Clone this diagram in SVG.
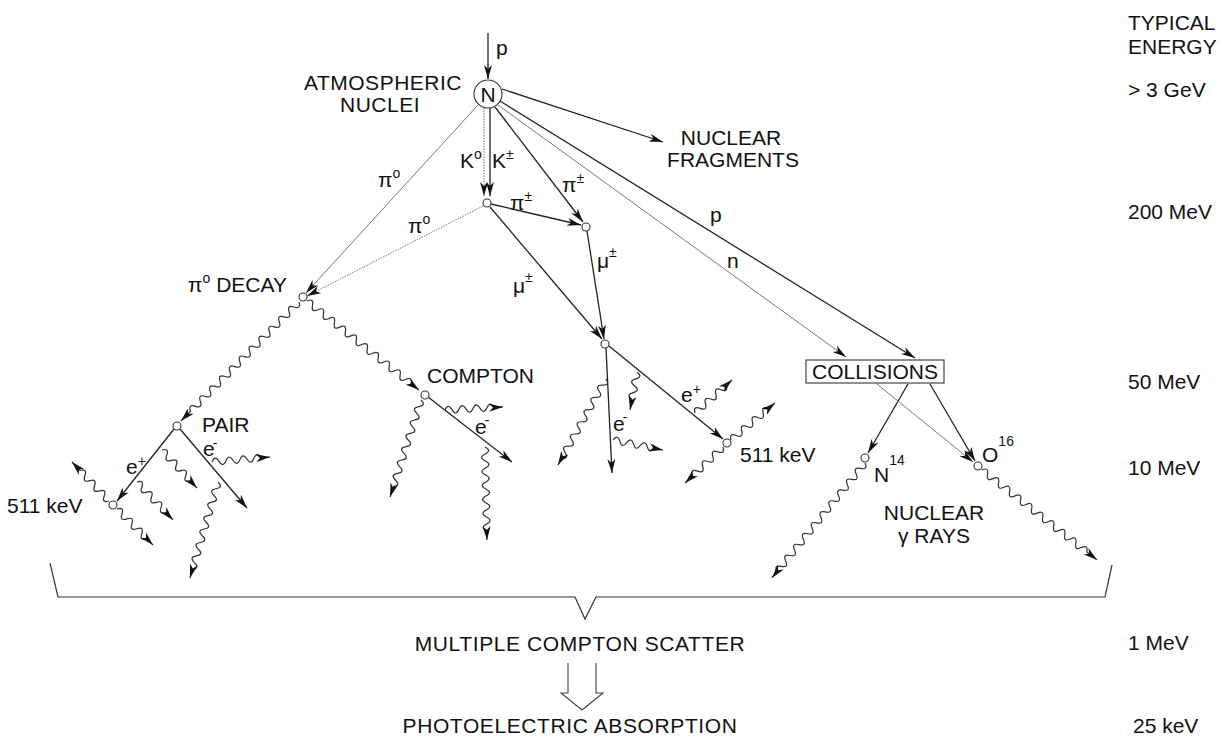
<svg xmlns="http://www.w3.org/2000/svg" width="1223" height="742" viewBox="0 0 1223 742">
<style>
text{font-family:"Liberation Sans",Arial,Helvetica,sans-serif;font-size:21px;fill:#111}
.ln{stroke:#222;stroke-width:1.3;fill:none;marker-end:url(#ah)}
.thin{stroke:#777;stroke-width:1;fill:none;marker-end:url(#ah)}
.dot{stroke-dasharray:1.5 1.2}
.wv{stroke:#333;stroke-width:1.2;fill:none;marker-end:url(#ah)}
.node{fill:#fff;stroke:#333;stroke-width:1.1}
.sup{font-size:14px}
.mid{text-anchor:middle}
</style>
<defs>
<marker id="ah" viewBox="0 0 14 8" refX="14" refY="4" markerWidth="14" markerHeight="8" markerUnits="userSpaceOnUse" orient="auto"><path d="M0,0 L14,4 L0,8 L4,4 z" fill="#111"/></marker>
</defs>
<rect width="1223" height="742" fill="#fff"/>

<g id="connectors">
<line class="ln" x1="488" y1="33" x2="488" y2="79"/>
<line class="thin" x1="478" y1="105" x2="306" y2="293"/>
<line class="thin dot" x1="484" y1="108" x2="484" y2="196"/>
<line class="ln" x1="490" y1="108" x2="490" y2="196"/>
<line class="ln" x1="495" y1="107" x2="583" y2="222"/>
<line class="ln" x1="502" y1="89" x2="663" y2="142"/>
<line class="ln" x1="500" y1="101" x2="915" y2="358"/>
<line class="thin" x1="498" y1="105" x2="846" y2="357"/>
<line class="ln" x1="491" y1="204" x2="581" y2="225"/>
<line class="thin dot" x1="483" y1="206" x2="307" y2="296"/>
<line class="ln" x1="490" y1="207" x2="602" y2="339"/>
<line class="ln" x1="587" y1="231" x2="604" y2="339"/>
<line class="ln" x1="174" y1="429" x2="117" y2="501"/>
<line class="ln" x1="180" y1="429" x2="247" y2="508"/>
<line class="ln" x1="428" y1="397" x2="512" y2="462"/>
<line class="ln" x1="606" y1="348" x2="612" y2="473"/>
<line class="ln" x1="609" y1="346" x2="723" y2="439"/>
<line class="ln" x1="908" y1="384" x2="868" y2="453"/>
<line class="ln" x1="930" y1="384" x2="975" y2="461"/>
<line class="thin" x1="877" y1="384" x2="973" y2="462"/>

<path class="wv" transform="translate(299,302) rotate(134.8)" d="M0,0 q3.5,-7 7,0 t7,0 7,0 7,0 7,0 7,0 7,0 7,0 7,0 7,0 7,0 7,0 7,0 7,0 7,0 7,0 7,0 7,0 7,0 7,0 7,0 7,0 L167.6,0"/>
<path class="wv" transform="translate(307,301) rotate(38.5)" d="M0,0 q3.5,-7 7,0 t7,0 7,0 7,0 7,0 7,0 7,0 7,0 7,0 7,0 7,0 7,0 7,0 7,0 7,0 7,0 7,0 7,0 7,0 L143.1,0"/>
<path class="wv" transform="translate(212,462) rotate(-4.9)" d="M0,0 q3.5,-7 7,0 t7,0 7,0 7,0 7,0 7,0 7,0 L58.2,0"/>
<path class="wv" transform="translate(218,482) rotate(106.3)" d="M0,0 q3.5,-7 7,0 t7,0 7,0 7,0 7,0 7,0 7,0 7,0 7,0 7,0 7,0 7,0 7,0 L100,0"/>
<path class="wv" transform="translate(162,450) rotate(47.4)" d="M0,0 q3.5,-7 7,0 t7,0 7,0 7,0 7,0 7,0 L51.7,0"/>
<path class="wv" transform="translate(137,482) rotate(46.5)" d="M0,0 q3.5,-7 7,0 t7,0 7,0 7,0 7,0 7,0 L52.3,0"/>
<path class="wv" transform="translate(109,501) rotate(-133.5)" d="M0,0 q3.5,-7 7,0 t7,0 7,0 7,0 7,0 7,0 L53.8,0"/>
<path class="wv" transform="translate(117,509) rotate(45)" d="M0,0 q3.5,-7 7,0 t7,0 7,0 7,0 7,0 7,0 L50.9,0"/>
<path class="wv" transform="translate(445,410) rotate(-3)" d="M0,0 q3.5,-7 7,0 t7,0 7,0 7,0 7,0 7,0 7,0 L58.1,0"/>
<path class="wv" transform="translate(485,447) rotate(88.8)" d="M0,0 q3.5,-7 7,0 t7,0 7,0 7,0 7,0 7,0 7,0 7,0 7,0 7,0 7,0 7,0 L93,0"/>
<path class="wv" transform="translate(421,400) rotate(107.7)" d="M0,0 q3.5,-7 7,0 t7,0 7,0 7,0 7,0 7,0 7,0 7,0 7,0 7,0 7,0 7,0 7,0 L101.8,0"/>
<path class="wv" transform="translate(606,379) rotate(119.2)" d="M0,0 q3.5,-7 7,0 t7,0 7,0 7,0 7,0 7,0 7,0 7,0 7,0 7,0 7,0 7,0 7,0 L98.5,0"/>
<path class="wv" transform="translate(613,440) rotate(11.3)" d="M0,0 q3.5,-7 7,0 t7,0 7,0 7,0 7,0 7,0 L51,0"/>
<path class="wv" transform="translate(637,372) rotate(100.4)" d="M0,0 q3.5,-7 7,0 t7,0 7,0 7,0 L38.6,0"/>
<path class="wv" transform="translate(695,413) rotate(-41.7)" d="M0,0 q3.5,-7 7,0 t7,0 7,0 7,0 7,0 7,0 L49.6,0"/>
<path class="wv" transform="translate(731,440) rotate(-40.1)" d="M0,0 q3.5,-7 7,0 t7,0 7,0 7,0 7,0 7,0 7,0 L57.5,0"/>
<path class="wv" transform="translate(723,447) rotate(136.5)" d="M0,0 q3.5,-7 7,0 t7,0 7,0 7,0 7,0 7,0 L52.3,0"/>
<path class="wv" transform="translate(865,463) rotate(129)" d="M0,0 q3.5,-7 7,0 t7,0 7,0 7,0 7,0 7,0 7,0 7,0 7,0 7,0 7,0 7,0 7,0 7,0 7,0 7,0 7,0 7,0 7,0 7,0 L147.9,0"/>
<path class="wv" transform="translate(982,470) rotate(38)" d="M0,0 q3.5,-7 7,0 t7,0 7,0 7,0 7,0 7,0 7,0 7,0 7,0 7,0 7,0 7,0 7,0 7,0 7,0 7,0 7,0 7,0 7,0 L146,0"/>

<polyline points="50,563 58,597 575,597 585,619 596,597 1105,597 1112,565" fill="none" stroke="#333" stroke-width="1.2"/>
<polyline points="568,663 568,693 561,693 582,710 603,693 596,693 596,663" fill="none" stroke="#444" stroke-width="1.1"/>
</g>

<g id="node-N">
<circle class="node" cx="488" cy="94" r="14"/>
<text x="488" y="101.5" class="mid">N</text>
<text x="383" y="90" class="mid" letter-spacing="0.5">ATMOSPHERIC</text>
<text x="380" y="112" class="mid" letter-spacing="0.5">NUCLEI</text>
</g>
<g id="node-K"><circle class="node" cx="487" cy="203" r="4"/></g>
<g id="node-pi"><circle class="node" cx="586" cy="227" r="4"/></g>
<g id="node-pi0decay">
<circle class="node" cx="303" cy="297" r="4"/>
<text x="188" y="292">π<tspan class="sup" dy="-9">o</tspan><tspan dy="9"> DECAY</tspan></text>
</g>
<g id="node-muon"><circle class="node" cx="605" cy="344" r="4"/></g>
<g id="node-pair">
<circle class="node" cx="177" cy="426" r="4"/>
<text x="202" y="432">PAIR</text>
</g>
<g id="node-511a">
<circle class="node" cx="113" cy="505" r="4"/>
<text x="7" y="513">511 keV</text>
</g>
<g id="node-compton">
<circle class="node" cx="425" cy="395" r="4"/>
<text x="427" y="383">COMPTON</text>
</g>
<g id="node-511b">
<circle class="node" cx="727" cy="443" r="4"/>
<text x="740" y="462">511 keV</text>
</g>
<g id="node-fragments">
<text x="731" y="145" class="mid">NUCLEAR</text>
<text x="733" y="167" class="mid">FRAGMENTS</text>
</g>
<g id="node-collisions">
<rect x="806" y="360" width="138" height="23" fill="#fff" stroke="#333" stroke-width="1.1"/>
<text x="875" y="379" class="mid">COLLISIONS</text>
</g>
<g id="node-N14">
<circle class="node" cx="865" cy="458" r="4"/>
<text x="874" y="482">N<tspan class="sup" dy="-17">14</tspan></text>
</g>
<g id="node-O16">
<circle class="node" cx="978" cy="466" r="4"/>
<text x="982" y="462">O<tspan class="sup" dy="-16">16</tspan></text>
</g>
<g id="node-nuclear-gamma">
<text x="934" y="520" class="mid">NUCLEAR</text>
<text x="934" y="543" class="mid">γ RAYS</text>
</g>
<g id="node-multiple">
<text x="580" y="651" class="mid" letter-spacing="0.6">MULTIPLE COMPTON SCATTER</text>
</g>
<g id="node-photo">
<text x="570" y="733" class="mid" letter-spacing="0.6">PHOTOELECTRIC ABSORPTION</text>
</g>

<g id="labels">
<text x="496" y="55">p</text>
<text x="378" y="187">π<tspan class="sup" dy="-9">o</tspan></text>
<text x="460" y="168">K<tspan class="sup" dy="-9">o</tspan></text>
<text x="492" y="168">K<tspan class="sup" dy="-9">±</tspan></text>
<text x="562" y="192">π<tspan class="sup" dy="-9">±</tspan></text>
<text x="510" y="210">π<tspan class="sup" dy="-9">±</tspan></text>
<text x="408" y="233">π<tspan class="sup" dy="-9">o</tspan></text>
<text x="513" y="293">μ<tspan class="sup" dy="-11">±</tspan></text>
<text x="597" y="268">μ<tspan class="sup" dy="-11">±</tspan></text>
<text x="710" y="222">p</text>
<text x="727" y="268">n</text>
<text x="126" y="474">e<tspan class="sup" dy="-8">+</tspan></text>
<text x="203" y="456">e<tspan class="sup" dy="-8" dx="-2">-</tspan></text>
<text x="475" y="434">e<tspan class="sup" dy="-9" dx="-2">-</tspan></text>
<text x="613" y="431">e<tspan class="sup" dy="-9" dx="-2">-</tspan></text>
<text x="681" y="402">e<tspan class="sup" dy="-8">+</tspan></text>
</g>

<g id="energy-scale">
<text x="1128" y="30">TYPICAL</text>
<text x="1128" y="54">ENERGY</text>
<text x="1128" y="97">&gt; 3 GeV</text>
<text x="1128" y="219">200 MeV</text>
<text x="1128" y="389">50 MeV</text>
<text x="1128" y="475">10 MeV</text>
<text x="1128" y="650">1 MeV</text>
<text x="1133" y="733">25 keV</text>
</g>
</svg>
